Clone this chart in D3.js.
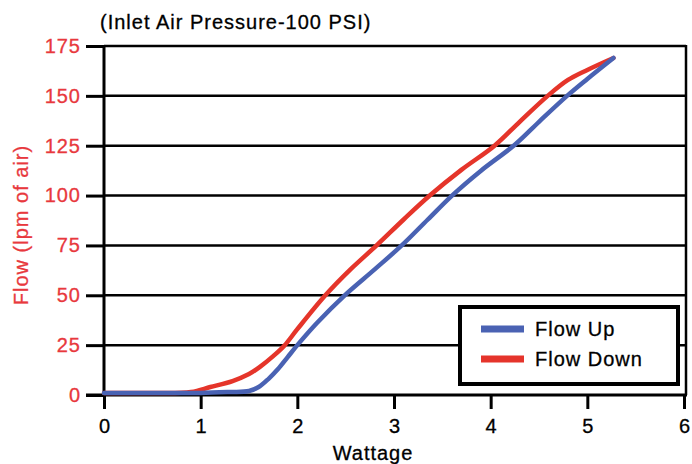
<!DOCTYPE html>
<html><head><meta charset="utf-8">
<script src="https://cdn.jsdelivr.net/npm/d3@7"></script>
<style>body{margin:0;background:#fff}svg{display:block}</style>
</head><body>
<svg id="c" width="692" height="464"></svg>
<script>
const xTicks = [0,1,2,3,4,5,6];
const yTicks = [0,25,50,75,100,125,150,175];
const upW   = [0, 0.5, 1.0, 1.3, 1.5, 1.6, 1.7, 1.8, 1.9, 2.0, 2.2, 2.49, 2.8, 3.08, 3.35, 3.6, 3.9, 4.25, 4.5, 4.79, 5.0, 5.27];
const upF   = [1, 1, 1, 1.5, 2, 4, 8, 13, 19, 25, 36, 50, 63, 75, 88, 100, 112.5, 125.5, 137, 150, 158.5, 169];
const downW = [0, 0.5, 0.9, 1.1, 1.33, 1.5, 1.61, 1.75, 1.87, 2.0, 2.29, 2.55, 2.82, 3.1, 3.37, 3.7, 4.04, 4.3, 4.59, 4.8, 5.0, 5.27];
const downF = [1, 1, 1.5, 4, 7, 10.5, 14, 19.5, 25, 33, 50, 63, 75, 88, 100, 113, 125, 137, 150, 158, 163, 169];
const seriesNames = ["Flow Up","Flow Down"];
const colors = ["#4a62b3","#e5342b"];
const titleText = "(Inlet Air Pressure-100 PSI)";
const xLabel = "Wattage";
const yLabel = "Flow (lpm of air)";

const svg = d3.select("#c");
const font = "'Liberation Sans', Arial, Helvetica, sans-serif";
const red = "#e8383d";
const fs = 20, ls = "1px";
const x = d3.scaleLinear().domain([0,6]).range([104,684]);
const y = d3.scaleLinear().domain([0,175]).range([395,46]);
const plotRight = 686;

const defs = svg.append("defs");
defs.append("filter").attr("id","blur").append("feGaussianBlur").attr("stdDeviation",0.7);

// gridlines
svg.append("g").selectAll("line").data(yTicks.filter(d=>d>0)).join("line")
  .attr("x1",x(0)).attr("x2",plotRight).attr("y1",d=>y(d)).attr("y2",d=>y(d))
  .attr("stroke","#000").attr("stroke-width",2.5);
// right border
svg.append("line").attr("x1",plotRight).attr("x2",plotRight).attr("y1",y(175)-1).attr("y2",y(0))
  .attr("stroke","#000").attr("stroke-width",2.5);

// y axis
const yAxis = svg.append("g").attr("transform",`translate(${x(0)},0)`)
  .call(d3.axisLeft(y).tickValues(yTicks).tickSize(18).tickPadding(5));
yAxis.select(".domain").attr("stroke","#000").attr("stroke-width",3).attr("d",`M0,${y(175)-1}V${y(0)+1.5}`);
yAxis.selectAll(".tick line").attr("stroke","#000").attr("stroke-width",3);
yAxis.selectAll(".tick text").attr("fill",red).attr("stroke",red).attr("stroke-width",0.3)
  .attr("font-family",font).attr("font-size",fs).attr("letter-spacing",ls);

// x axis
const xAxis = svg.append("g").attr("transform",`translate(0,${y(0)})`)
  .call(d3.axisBottom(x).tickValues(xTicks).tickFormat(d3.format("d")).tickSize(14).tickPadding(10));
xAxis.select(".domain").attr("stroke","#000").attr("stroke-width",3).attr("d",`M${x(0)-18},0H${plotRight+1}`);
xAxis.selectAll(".tick line").attr("stroke","#000").attr("stroke-width",3);
xAxis.selectAll(".tick text").attr("fill","#000").attr("stroke","#000").attr("stroke-width",0.3)
  .attr("font-family",font).attr("font-size",fs);

// lines
const line = d3.line().x(d=>x(d[0])).y(d=>y(d[1])).curve(d3.curveCatmullRom.alpha(0.5));
const upData = upW.map((w,i)=>[w,upF[i]]);
const downData = downW.map((w,i)=>[w,downF[i]]);
svg.append("path").datum(downData).attr("d",line).attr("fill","none")
  .attr("stroke",colors[1]).attr("stroke-width",4.5).attr("stroke-linecap","round").attr("filter","url(#blur)");
svg.append("path").datum(upData).attr("d",line).attr("fill","none")
  .attr("stroke",colors[0]).attr("stroke-width",4.5).attr("stroke-linecap","round").attr("filter","url(#blur)");

// titles
const txt = (sel, c) => sel.attr("font-family",font).attr("font-size",fs).attr("letter-spacing",ls)
  .attr("fill",c).attr("stroke",c).attr("stroke-width",0.3);
txt(svg.append("text").attr("x",100).attr("y",29), "#000").text(titleText);
txt(svg.append("text").attr("x",(x(0)+plotRight)/2-22).attr("y",460).attr("text-anchor","middle"), "#000").text(xLabel);
txt(svg.append("text").attr("transform","translate(28,225) rotate(-90)").attr("text-anchor","middle"), red).text(yLabel);

// legend
const lg = svg.append("g");
lg.append("rect").attr("x",460).attr("y",307).attr("width",218).attr("height",77)
  .attr("fill","#fff").attr("stroke","#000").attr("stroke-width",4);
seriesNames.forEach((n,i)=>{
  const ly = 329 + i*30;
  lg.append("line").attr("x1",481).attr("x2",524).attr("y1",ly).attr("y2",ly)
    .attr("stroke",colors[i]).attr("stroke-width",7);
  txt(lg.append("text").attr("x",535).attr("y",ly+7), "#000").text(n);
});
</script>
</body></html>
